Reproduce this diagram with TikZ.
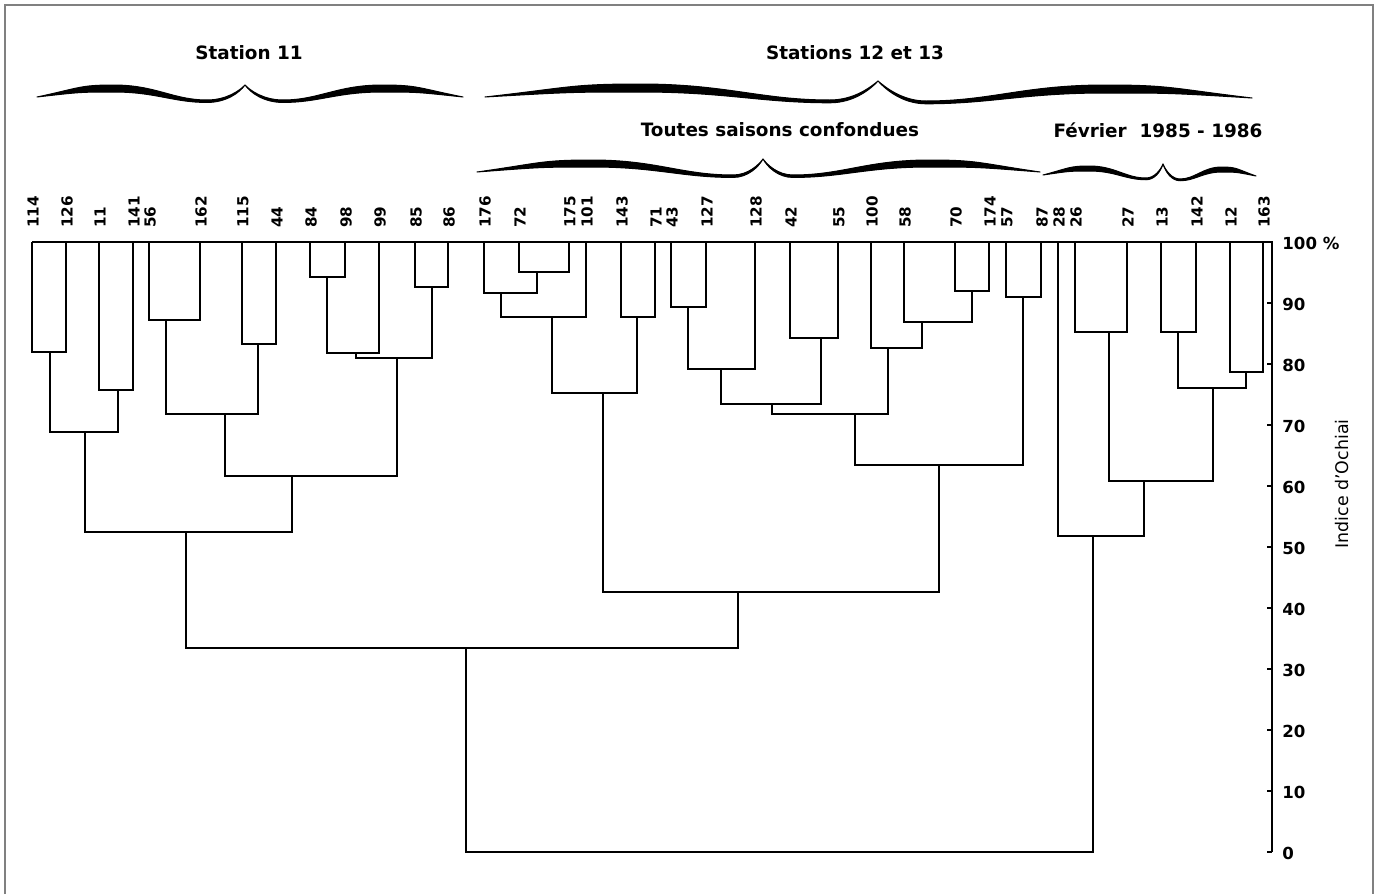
\documentclass[tikz,border=0pt]{standalone}
\usepackage{fontspec}
\setmainfont{DejaVu Sans}
\tikzset{
 dline/.style={line width=1.05pt, line join=miter},
 brace/.style={fill=black, draw=black, line width=0.5pt, line join=round},
 leaf/.style={rotate=90, anchor=west, inner sep=0pt, font=\fontsize{7.6}{8}\selectfont\bfseries},
 ticklab/.style={anchor=west, inner sep=0pt, font=\fontsize{8.3}{9}\selectfont\bfseries},
 title/.style={inner sep=0pt, font=\fontsize{9.2}{10}\selectfont\bfseries},
 frameline/.style={draw=black!50, line width=0.6pt},
}
\newcommand\Merge[5]{\coordinate (#1) at (#5,#4); \draw[dline] (#2) |- (#1) -| (#3);}
\newcommand\HalfBrace[7]{%
 \pgfmathsetmacro\bxd{#3-(#5)}%
 \pgfmathsetmacro\buu{\bxd-(#1)}%
 \pgfmathsetmacro\bxp{#1+0.45*(\buu)}%
 \pgfmathsetmacro\bca{#1+0.25*(\buu)}%
 \pgfmathsetmacro\bcb{\bxp-0.2*(\buu)}%
 \pgfmathsetmacro\bcc{\bxp+0.25*(\buu)}%
 \pgfmathsetmacro\bcd{\bxd-0.2*(\buu)}%
 \pgfmathsetmacro\bce{\bxd+0.5*(#5)}%
 \pgfmathsetmacro\bcf{#3-0.15*(#5)}%
 \pgfmathsetmacro\bya{#2-0.75*#6}%
 \pgfmathsetmacro\byp{#2-#6}%
 \pgfmathsetmacro\byd{#2+3}%
 \pgfmathsetmacro\byt{#4+6}%
 \pgfmathsetmacro\bytt{#4+8}%
 \pgfmathsetmacro\bydd{#2+3+0.35*#7}%
 \pgfmathsetmacro\bypp{#2-#6+#7}%
 \pgfmathsetmacro\byaa{#2-0.75*#6+0.6*#7}%
 \filldraw[brace] (#1,#2) .. controls (\bca,\bya) and (\bcb,\byp) .. (\bxp,\byp)
   .. controls (\bcc,\byp) and (\bcd,\byd) .. (\bxd,\byd)
   .. controls (\bce,\byd) and (\bcf,\byt) .. (#3,#4)
   .. controls (\bcf,\bytt) and (\bce,\bydd) .. (\bxd,\bydd)
   .. controls (\bcd,\bydd) and (\bcc,\bypp) .. (\bxp,\bypp)
   .. controls (\bcb,\bypp) and (\bca,\byaa) .. (#1,#2) -- cycle;}
\begin{document}
\begin{tikzpicture}[x=0.5pt,y=-0.5pt]
\useasboundingbox[fill=white] (0,0) rectangle (1381,894);
% frame
\draw[frameline] (5,894) -- (5,5) -- (1373,5) -- (1373,894);
% titles
\node[title] (tS11) at (249,53) {Station 11};
\node[title] (tS1213) at (855,53) {Stations 12 et 13};
\node[title] (tTout) at (780,130) {Toutes saisons confondues};
\node[title] (tFev) at (1158,130) {Février\hspace{0.35em} 1985 - 1986};
% braces
\HalfBrace{37}{97}{245}{85}{38}{12}{7}
\HalfBrace{463}{97}{245}{85}{-38}{12}{7}
\HalfBrace{485}{97}{878}{81}{48}{13}{8}
\HalfBrace{1252}{98}{878}{81}{-48}{13}{8}
\HalfBrace{477}{172}{763}{159}{30}{12}{7}
\HalfBrace{1040}{172}{763}{159}{-30}{12}{7}
\HalfBrace{1043}{175}{1163}{164}{17}{9}{5}
\HalfBrace{1256}{176}{1163}{164}{-17}{9}{5}
% leaves
\foreach \n/\x in {114/32,126/66,11/99,141/133,56/149,162/200,115/242,44/276,84/310,98/345,99/379,85/415,86/448,
  176/484,72/519,175/569,101/586,143/621,71/655,43/671,127/706,128/755,42/790,55/838,100/871,58/904,70/955,174/989,57/1006,87/1041,
  28/1058,26/1075,27/1127,13/1161,142/1196,12/1230,163/1263}{
  \coordinate (L\n) at (\x,242);
  \node[leaf] (t\n) at (\x+1,228) {\n};
}
% axis
\coordinate (ax100) at (1272,242);
\coordinate (ax0) at (1272,852);
\draw[dline] (L114) -- (ax100) -- (ax0);
\foreach \k in {1,...,10}{\draw[line width=0.8pt] (1272,242+61*\k) -- ++(-5,0);}
\node[ticklab] (v100) at (1282,243) {100 \%};
\foreach \v [count=\k] in {90,80,70,60,50,40,30,20,10,0}{
  \node[ticklab] (v\v) at (1282,243+61*\k) {\v};
}
\node[rotate=90, inner sep=0pt, font=\fontsize{8.7}{9}\selectfont] (ochiai) at (1342,484) {Indice d'Ochiai};
% Station 11
\Merge{m1}{L114}{L126}{352}{50}
\Merge{m2}{L11}{L141}{390}{118}
\Merge{m3}{m1}{m2}{432}{85}
\Merge{m4}{L56}{L162}{320}{166}
\Merge{m5}{L115}{L44}{344}{258}
\Merge{m6}{m4}{m5}{414}{225}
\Merge{m7}{L84}{L98}{277}{327}
\Merge{m8}{m7}{L99}{353}{356}
\Merge{m9}{L85}{L86}{287}{432}
\Merge{m10}{m8}{m9}{358}{397}
\Merge{m11}{m6}{m10}{476}{292}
\Merge{m12}{m3}{m11}{532}{186}
% Stations 12 et 13
\Merge{m13}{L72}{L175}{272}{537}
\Merge{m14}{L176}{m13}{293}{501}
\Merge{m15}{m14}{L101}{317}{552}
\Merge{m16}{L143}{L71}{317}{637}
\Merge{m17}{m15}{m16}{393}{603}
\Merge{m18}{L43}{L127}{307}{688}
\Merge{m19}{m18}{L128}{369}{721}
\Merge{m20}{L42}{L55}{338}{821}
\Merge{m21}{m19}{m20}{404}{772}
\Merge{m22}{L70}{L174}{291}{972}
\Merge{m23}{L58}{m22}{322}{922}
\Merge{m24}{L100}{m23}{348}{888}
\Merge{m25}{m21}{m24}{414}{855}
\Merge{m26}{L57}{L87}{297}{1023}
\Merge{m27}{m25}{m26}{465}{939}
\Merge{m28}{m17}{m27}{592}{738}
\Merge{m29}{m12}{m28}{648}{466}
% Fevrier
\Merge{m30}{L26}{L27}{332}{1109}
\Merge{m31}{L13}{L142}{332}{1178}
\Merge{m32}{L12}{L163}{372}{1246}
\Merge{m33}{m31}{m32}{388}{1213}
\Merge{m34}{m30}{m33}{481}{1144}
\Merge{m35}{L28}{m34}{536}{1093}
% root
\Merge{root}{m29}{m35}{852}{780}
\end{tikzpicture}
\end{document}
